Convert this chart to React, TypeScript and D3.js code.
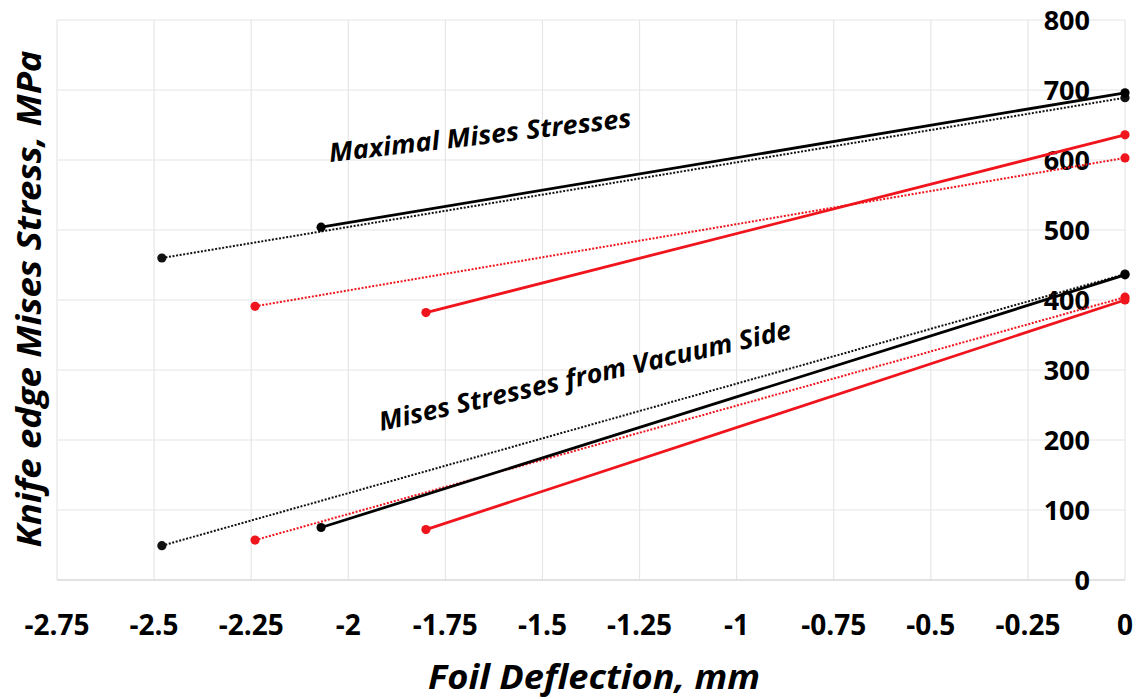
import React, { useRef, useEffect } from 'react';
import * as d3 from 'd3';

const WIDTH = 1136;
const HEIGHT = 699;

// axis ticks
const xTicks = [-2.75, -2.5, -2.25, -2, -1.75, -1.5, -1.25, -1, -0.75, -0.5, -0.25, 0];
const yTicks = [0, 100, 200, 300, 400, 500, 600, 700, 800];

// foil deflection (mm) of the two end points of each case
const deflBlackSolid = [-2.07, 0];
const deflBlackDotted = [-2.48, 0];
const deflRedSolid = [-1.8, 0];
const deflRedDotted = [-2.24, 0];

// maximal Mises stresses, MPa
const maxBlackSolid = [504, 696];
const maxBlackDotted = [460, 689];
const maxRedSolid = [382, 636];
const maxRedDotted = [391, 603];

// Mises stresses from vacuum side, MPa
const vacBlackSolid = [75, 436];
const vacBlackDotted = [49, 437];
const vacRedSolid = [72, 400];
const vacRedDotted = [57, 404];

const RED = '#f0141c';
const FONT = '"Open Sans", "DejaVu Sans", sans-serif';

const series = [
  { xs: deflBlackDotted, ys: maxBlackDotted, color: '#111', dotted: true },
  { xs: deflRedDotted, ys: maxRedDotted, color: RED, dotted: true },
  { xs: deflBlackSolid, ys: maxBlackSolid, color: '#000', dotted: false },
  { xs: deflRedSolid, ys: maxRedSolid, color: RED, dotted: false },
  { xs: deflBlackDotted, ys: vacBlackDotted, color: '#111', dotted: true },
  { xs: deflRedDotted, ys: vacRedDotted, color: RED, dotted: true },
  { xs: deflBlackSolid, ys: vacBlackSolid, color: '#000', dotted: false },
  { xs: deflRedSolid, ys: vacRedSolid, color: RED, dotted: false },
];

export default function App() {
  const svgRef = useRef<SVGSVGElement>(null);

  useEffect(() => {
    if (!svgRef.current) return;
    const svg = d3.select(svgRef.current);
    svg.selectAll('*').remove();

    const x = d3.scaleLinear().domain([-2.75, 0]).range([57, 1125]);
    const y = d3.scaleLinear().domain([0, 800]).range([580, 20]);

    svg.append('rect').attr('width', WIDTH).attr('height', HEIGHT).attr('fill', '#fff');

    // grid
    const grid = svg.append('g');
    xTicks.forEach((t) => {
      grid.append('line')
        .attr('x1', x(t)).attr('x2', x(t))
        .attr('y1', y(800)).attr('y2', y(0))
        .attr('stroke', '#e6e6e6').attr('stroke-width', 1.2);
    });
    yTicks.forEach((t) => {
      grid.append('line')
        .attr('x1', x(-2.75)).attr('x2', x(0))
        .attr('y1', y(t)).attr('y2', y(t))
        .attr('stroke', t === 0 ? '#d9d9d9' : '#e6e6e6').attr('stroke-width', t === 0 ? 1.6 : 1.2);
    });

    // tick labels
    xTicks.forEach((t) => {
      svg.append('text')
        .attr('x', x(t)).attr('y', 635)
        .attr('text-anchor', 'middle')
        .attr('font-family', FONT).attr('font-weight', 700).attr('font-size', 28)
        .attr('fill', '#000')
        .text(String(t));
    });
    yTicks.forEach((t) => {
      svg.append('text')
        .attr('x', 1090).attr('y', y(t))
        .attr('dy', '0.36em')
        .attr('text-anchor', 'end')
        .attr('font-family', FONT).attr('font-weight', 700).attr('font-size', 27)
        .attr('fill', '#000')
        .text(String(t));
    });

    // lines
    const line = d3.line<[number, number]>().x((d) => x(d[0])).y((d) => y(d[1]));
    series.forEach((s) => {
      const pts = s.xs.map((v, i) => [v, s.ys[i]] as [number, number]);
      svg.append('path')
        .attr('d', line(pts))
        .attr('fill', 'none')
        .attr('stroke', s.color)
        .attr('stroke-width', s.dotted ? 2 : 2.8)
        .attr('stroke-dasharray', s.dotted ? '2,1.6' : null);
      pts.forEach((p) => {
        svg.append('circle')
          .attr('cx', x(p[0])).attr('cy', y(p[1]))
          .attr('r', 4.6)
          .attr('fill', s.color);
      });
    });

    // annotations
    svg.append('text')
      .attr('transform', 'translate(330,162) rotate(-6.6)')
      .attr('font-family', FONT).attr('font-weight', 700).attr('font-style', 'italic')
      .attr('font-size', 26)
      .attr('textLength', 304).attr('lengthAdjust', 'spacingAndGlyphs')
      .text('Maximal Mises Stresses');
    svg.append('text')
      .attr('transform', 'translate(381,431) rotate(-12.7)')
      .attr('font-family', FONT).attr('font-weight', 700).attr('font-style', 'italic')
      .attr('font-size', 26)
      .attr('textLength', 422).attr('lengthAdjust', 'spacingAndGlyphs')
      .text('Mises Stresses from Vacuum Side');

    // axis titles
    svg.append('text')
      .attr('x', 594).attr('y', 689)
      .attr('text-anchor', 'middle')
      .attr('font-family', FONT).attr('font-weight', 700).attr('font-style', 'italic')
      .attr('font-size', 34)
      .attr('textLength', 332).attr('lengthAdjust', 'spacingAndGlyphs')
      .text('Foil Deflection, mm');
    svg.append('text')
      .attr('transform', 'translate(41,299) rotate(-90)')
      .attr('text-anchor', 'middle')
      .attr('font-family', FONT).attr('font-weight', 700).attr('font-style', 'italic')
      .attr('font-size', 34)
      .attr('textLength', 497).attr('lengthAdjust', 'spacingAndGlyphs')
      .text('Knife edge Mises Stress, MPa');
  }, []);

  return (
    <svg
      ref={svgRef}
      width={WIDTH}
      height={HEIGHT}
      style={{ position: 'absolute', left: 0, top: 0, display: 'block' }}
    />
  );
}
